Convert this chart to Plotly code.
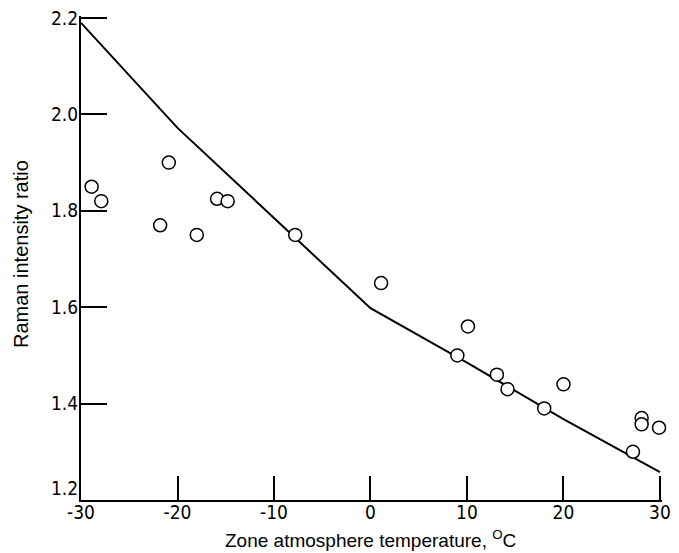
import plotly.graph_objects as go

# Measured data points (open circles)
temp_obs = [-28.9, -27.9, -21.8, -20.9, -18.0, -15.9, -14.8, -7.8, 1.1, 9.0,
            10.1, 13.1, 14.2, 18.0, 20.0, 27.2, 28.1, 28.1, 29.9]
ratio_obs = [1.85, 1.82, 1.77, 1.90, 1.75, 1.825, 1.82, 1.75, 1.65, 1.50,
             1.56, 1.46, 1.43, 1.39, 1.44, 1.30, 1.37, 1.357, 1.35]

# Theoretical curve
temp_line = [-30, -20, -10, 0, 10, 20, 30]
ratio_line = [2.19, 1.972, 1.785, 1.598, 1.485, 1.368, 1.258]

x_ticks = [-30, -20, -10, 0, 10, 20, 30]
x_ticklabels = ["-30", "-20", "-10", "0", "10", "20", "30"]
y_ticks = [1.2, 1.4, 1.6, 1.8, 2.0, 2.2]
y_ticklabels = ["1.2", "1.4", "1.6", "1.8", "2.0", "2.2"]

x_title = "Zone atmosphere temperature, <sup>O</sup>C"
y_title = "Raman intensity ratio"

TICKFONT = "Liberation Sans Narrow, DejaVu Sans Condensed, Liberation Sans, Arial, sans-serif"
TITLEFONT = "Liberation Sans, Arial, sans-serif"

# the lowest y label sits raised above the x axis in the reference, drawn separately
y_ticktext_axis = [""] + y_ticklabels[1:]

fig = go.Figure()
fig.add_trace(go.Scatter(x=temp_line, y=ratio_line, mode="lines",
                         line=dict(color="black", width=2), showlegend=False,
                         cliponaxis=False))
fig.add_trace(go.Scatter(x=temp_obs, y=ratio_obs, mode="markers",
                         marker=dict(symbol="circle", size=13, color="white",
                                     line=dict(color="black", width=1.5)),
                         showlegend=False, cliponaxis=False))

# page has an 8px body margin; compensate so the plot area lands where the reference has it.
# Ranges are padded by ~2px at the far ends so the end ticks (2.2 and 30) are not culled.
fig.update_layout(
    width=671, height=545,
    margin=dict(l=73, r=17, t=8, b=53, autoexpand=False),
    paper_bgcolor="white", plot_bgcolor="white",
    font=dict(family=TICKFONT, color="black"),
    xaxis=dict(range=[-30, 30.21], tickvals=x_ticks, ticktext=x_ticklabels,
               ticks="inside", ticklen=24, tickwidth=2, tickcolor="black",
               showline=True, linewidth=2, linecolor="black", mirror=False,
               showgrid=False, zeroline=False, automargin=False,
               ticklabelstandoff=-6, ticklabeloverflow="allow",
               tickfont=dict(size=19, family=TICKFONT)),
    yaxis=dict(range=[1.2, 2.2042], tickvals=y_ticks, ticktext=y_ticktext_axis,
               ticks="inside", ticklen=26, tickwidth=2, tickcolor="black",
               showline=True, linewidth=2, linecolor="black", mirror=False,
               showgrid=False, zeroline=False, automargin=False,
               ticklabelstandoff=-3, ticklabeloverflow="allow",
               tickfont=dict(size=19, family=TICKFONT)),
    annotations=[
        dict(text=y_ticklabels[0], xref="x", yref="y", x=x_ticks[0], y=y_ticks[0],
             xanchor="right", yanchor="bottom", xshift=-1, yshift=-1,
             showarrow=False, font=dict(size=19, family=TICKFONT, color="black")),
        dict(text=x_title, xref="paper", yref="paper", x=0.5, y=0,
             xanchor="center", yanchor="middle", xshift=-1, yshift=-39, showarrow=False,
             font=dict(size=19, family=TITLEFONT, color="black")),
        dict(text=y_title, xref="paper", yref="paper", x=0, y=0.5,
             xanchor="center", yanchor="middle", xshift=-60, yshift=4,
             textangle=-90, showarrow=False,
             font=dict(size=20, family=TITLEFONT, color="black")),
    ],
)

fig.write_html("out.html")
